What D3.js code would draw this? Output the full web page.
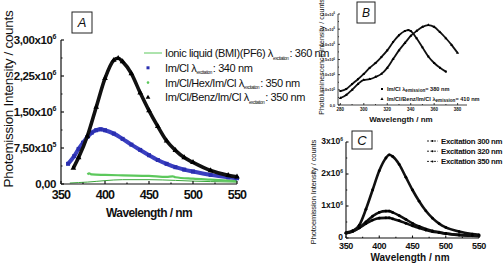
<!DOCTYPE html>
<html>
<head>
<meta charset="utf-8">
<script src="https://cdn.jsdelivr.net/npm/d3@7"></script>
<style>
  body { margin: 0; background: #fff; }
  svg { display: block; }
  text { font-family: "Liberation Sans", Arial, sans-serif; fill: #111; }
</style>
</head>
<body>
<svg id="fig" width="504" height="266"></svg>
<script>
// ---- panel A : photoemission, wavelength in nm, intensity in counts
const aIonicWl  = [360, 370, 380, 390, 400, 420, 450, 480, 500, 520, 550];
const aIonicVal = [2e4, 3e4, 4e4, 5.5e4, 7e4, 9e4, 9e4, 7.5e4, 6e4, 5e4, 4e4];
const aImClWl   = [358, 365, 370, 375, 380, 385, 390, 395, 400, 410, 420, 430, 440, 450, 460, 470, 480, 490, 500, 520, 540, 550];
const aImClVal  = [4.2e5, 5.8e5, 7.3e5, 8.6e5, 9.8e5, 1.07e6, 1.12e6, 1.14e6, 1.12e6, 1.05e6, 9.4e5, 8.2e5, 7.1e5, 6.0e5, 5.0e5, 4.2e5, 3.5e5, 3.0e5, 2.6e5, 1.9e5, 1.4e5, 1.2e5];
const aHexWl    = [380, 382, 385, 400, 420, 450, 470, 477, 480, 500, 520, 550];
const aHexVal   = [2.0e5, 2.2e5, 2.0e5, 1.9e5, 1.8e5, 1.7e5, 1.5e5, 1.6e5, 1.4e5, 1.1e5, 9e4, 6e4];
const aBenzWl   = [364, 370, 380, 390, 400, 410, 415, 420, 430, 440, 450, 460, 470, 480, 490, 500, 520, 540, 550];
const aBenzVal  = [3.3e5, 5.5e5, 1.0e6, 1.6e6, 2.2e6, 2.58e6, 2.62e6, 2.55e6, 2.3e6, 1.9e6, 1.53e6, 1.2e6, 9e5, 7e5, 5.5e5, 4.5e5, 2.8e5, 1.8e5, 1.5e5];
const aYTicks   = [0, 7.5e5, 1.5e6, 2.25e6, 3e6];
const aYLabels  = [["0,00", ""], ["7,50x10", "5"], ["1,50x10", "6"], ["2,25x10", "6"], ["3,00x10", "6"]];
const aXTicks   = [350, 400, 450, 500, 550];

// ---- panel B : excitation spectra (arbitrary units, one tick step = 1)
const bImClWl   = [280, 285, 290, 295, 300, 305, 310, 315, 320, 325, 330, 335, 338, 340, 345, 350, 355, 360, 365, 370];
const bImClVal  = [0.92, 1.05, 1.38, 1.7, 2.05, 2.45, 2.77, 3.16, 3.6, 4.15, 4.6, 4.88, 4.94, 4.88, 4.4, 3.8, 3.2, 2.77, 2.45, 2.2];
const bBenzWl   = [280, 285, 290, 295, 300, 305, 310, 315, 320, 325, 330, 335, 340, 345, 350, 355, 360, 365, 370, 375, 380];
const bBenzVal  = [0.46, 0.66, 1.0, 1.38, 1.65, 1.7, 1.85, 2.05, 2.45, 3.03, 3.6, 4.08, 4.55, 4.88, 5.15, 5.27, 5.15, 4.8, 4.4, 3.95, 3.43];
const bYTicks   = [0, 1, 2, 3, 4, 5, 6];
const bYLabels  = ["0,0", "5,0x10", "1,0x10", "1,5x10", "2,0x10", "2,5x10", "3,0x10"];
const bXTicks   = [280, 300, 320, 340, 360, 380];

// ---- panel C : photoemission for three excitation wavelengths (x10^6 counts)
const cWl       = [350, 360, 370, 380, 390, 400, 410, 415, 420, 430, 440, 450, 460, 470, 480, 490, 500, 520, 540, 550];
const c300      = [0.15, 0.22, 0.4, 0.9, 1.5, 2.1, 2.5, 2.6, 2.55, 2.3, 1.9, 1.5, 1.15, 0.85, 0.62, 0.45, 0.33, 0.2, 0.12, 0.1];
const c320      = [0.15, 0.2, 0.32, 0.5, 0.68, 0.8, 0.84, 0.84, 0.8, 0.7, 0.58, 0.46, 0.36, 0.28, 0.22, 0.18, 0.14, 0.09, 0.07, 0.06];
const c350      = [0.17, 0.22, 0.32, 0.45, 0.56, 0.62, 0.63, 0.63, 0.6, 0.54, 0.46, 0.38, 0.31, 0.25, 0.2, 0.17, 0.14, 0.1, 0.08, 0.07];
const cYTicks   = [0, 1, 2, 3];
const cYLabels  = [["0", ""], ["1x10", "6"], ["2x10", "6"], ["3x10", "6"]];
const cXTicks   = [350, 400, 450, 500, 550];
const cLegend   = ["Excitation 300 nm", "Excitation 320 nm", "Excitation 350 nm"];

const svg = d3.select("#fig");

function zip(xs, ys) { return xs.map((x, i) => [x, ys[i]]); }

// draws a bare axis line with inward major + minor ticks
function drawAxes(g, x, y, opt) {
    const [x0, x1] = x.range(), [y0, y1] = y.range();
    g.append("line").attr("x1", x0).attr("x2", x0).attr("y1", y0).attr("y2", y1)
        .attr("stroke", "#111").attr("stroke-width", opt.sw);
    g.append("line").attr("x1", x0).attr("x2", x1).attr("y1", y0).attr("y2", y0)
        .attr("stroke", "#111").attr("stroke-width", opt.sw);
    const xt = opt.xTicks, yt = opt.yTicks;
    const xMinor = xt.slice(0, -1).map((t, i) => (t + xt[i + 1]) / 2);
    const yMinor = yt.slice(0, -1).map((t, i) => (t + yt[i + 1]) / 2);
    xt.forEach(t => g.append("line").attr("x1", x(t)).attr("x2", x(t))
        .attr("y1", y0).attr("y2", y0 - opt.tl).attr("stroke", "#111").attr("stroke-width", opt.sw));
    xMinor.forEach(t => g.append("line").attr("x1", x(t)).attr("x2", x(t))
        .attr("y1", y0).attr("y2", y0 - opt.tl / 2).attr("stroke", "#111").attr("stroke-width", opt.sw));
    yt.forEach(t => g.append("line").attr("x1", x0).attr("x2", x0 + opt.tl)
        .attr("y1", y(t)).attr("y2", y(t)).attr("stroke", "#111").attr("stroke-width", opt.sw));
    yMinor.forEach(t => g.append("line").attr("x1", x0).attr("x2", x0 + opt.tl / 2)
        .attr("y1", y(t)).attr("y2", y(t)).attr("stroke", "#111").attr("stroke-width", opt.sw));
    g.selectAll(null).data(xt).join("text")
        .attr("x", d => x(d)).attr("y", y0 + opt.xlOff)
        .attr("text-anchor", "middle").attr("font-size", opt.fs).attr("font-weight", "bold")
        .attr("letter-spacing", opt.ls)
        .text(d => d);
}

function yLabels(g, x, y, ticks, labels, fs, off, supFs) {
    const x0 = x.range()[0];
    ticks.forEach((t, i) => {
        const lab = labels[i];
        const txt = g.append("text").attr("x", x0 - off).attr("y", y(t) + fs * 0.35)
            .attr("text-anchor", "end").attr("font-size", fs).attr("font-weight", "bold")
            .attr("letter-spacing", -0.4);
        txt.append("tspan").text(lab[0]);
        if (lab[1]) txt.append("tspan").attr("dy", -fs * 0.45).attr("font-size", supFs).text(lab[1]);
    });
}

function panelBox(letter, bx, by, bw, bh, fs) {
    svg.append("rect").attr("x", bx).attr("y", by).attr("width", bw).attr("height", bh)
        .attr("fill", "#fff").attr("stroke", "#222").attr("stroke-width", 1);
    svg.append("text").attr("x", bx + bw / 2).attr("y", by + bh / 2 + fs * 0.36)
        .attr("text-anchor", "middle").attr("font-size", fs).attr("font-style", "italic")
        .text(letter);
}

// ======================= panel A
{
    const x = d3.scaleLinear().domain([350, 550]).range([61, 237]);
    const y = d3.scaleLinear().domain([0, 3e6]).range([184, 40]);
    const g = svg.append("g");
    const line = d3.line().x(d => x(d[0])).y(d => y(d[1])).curve(d3.curveMonotoneX);

    g.append("path").datum(zip(aIonicWl, aIonicVal)).attr("d", line)
        .attr("fill", "none").attr("stroke", "#3aa63a").attr("stroke-width", 1);
    g.append("path").datum(zip(aHexWl, aHexVal)).attr("d", line)
        .attr("fill", "none").attr("stroke", "#5cc85c").attr("stroke-width", 2.2);
    g.append("path").datum(zip(aImClWl, aImClVal)).attr("d", line)
        .attr("fill", "none").attr("stroke", "#3a3fc0").attr("stroke-width", 4);
    g.selectAll(null).data(zip(aImClWl, aImClVal)).join("rect")
        .attr("x", d => x(d[0]) - 2).attr("y", d => y(d[1]) - 2)
        .attr("width", 4).attr("height", 4).attr("fill", "#2a2fb0");
    g.append("path").datum(zip(aBenzWl, aBenzVal)).attr("d", line)
        .attr("fill", "none").attr("stroke", "#111").attr("stroke-width", 3.6);
    g.selectAll(null).data(zip(aBenzWl, aBenzVal)).join("path")
        .attr("transform", d => `translate(${x(d[0])},${y(d[1])})`)
        .attr("d", d3.symbol(d3.symbolTriangle, 14)).attr("fill", "#000");

    drawAxes(g, x, y, { xTicks: aXTicks, yTicks: aYTicks, tl: 3, sw: 1.2, fs: 12.5, xlOff: 15, ls: -0.8 });
    yLabels(g, x, y, aYTicks, aYLabels, 11.5, 5, 7);

    g.append("text").attr("x", 149).attr("y", 217).attr("text-anchor", "middle")
        .attr("font-size", 12).attr("font-weight", "bold").attr("letter-spacing", -0.6)
        .text("Wavelength / nm");
    g.append("text").attr("transform", "translate(13,99) rotate(-90)").attr("text-anchor", "middle")
        .attr("font-size", 13.5).attr("letter-spacing", -0.3)
        .text("Photemission Intensity / counts");

    // legend
    const leg = [
        { name: "Ionic liquid (BMI)(PF6) \u03bb", nm: ": 360 nm", mark: "line" },
        { name: "Im/Cl \u03bb", nm: ": 340 nm", mark: "square" },
        { name: "Im/Cl/Hex/Im/Cl \u03bb", nm: ": 350 nm", mark: "dot" },
        { name: "Im/Cl/Benz/Im/Cl \u03bb", nm: ": 350 nm", mark: "tri" }
    ];
    leg.forEach((d, i) => {
        const ly = 53 + i * 14.8;
        if (d.mark === "line") g.append("line").attr("x1", 144).attr("x2", 162).attr("y1", ly).attr("y2", ly)
            .attr("stroke", "#5cc85c").attr("stroke-width", 1);
        if (d.mark === "square") g.append("rect").attr("x", 146.5).attr("y", ly - 1.5).attr("width", 3).attr("height", 3).attr("fill", "#2a2fb0");
        if (d.mark === "dot") g.append("circle").attr("cx", 148).attr("cy", ly).attr("r", 1.3).attr("fill", "#5cc85c");
        if (d.mark === "tri") g.append("path").attr("transform", `translate(148,${ly})`)
            .attr("d", d3.symbol(d3.symbolTriangle, 10)).attr("fill", "#000");
        const t = g.append("text").attr("x", 165).attr("y", ly + 4)
            .attr("font-size", 11).attr("letter-spacing", -0.4);
        t.append("tspan").text(d.name);
        t.append("tspan").attr("dy", 2.5).attr("font-size", 4.6).text("excitation");
        t.append("tspan").attr("dy", -2.5).attr("dx", 1).text(d.nm);
    });

    panelBox("A", 72, 12, 20, 21, 13);
}

// ======================= panel B
{
    const x = d3.scaleLinear().domain([278, 388]).range([338, 467]);
    const y = d3.scaleLinear().domain([0, 6]).range([105, 14]);
    const g = svg.append("g");
    const line = d3.line().x(d => x(d[0])).y(d => y(d[1])).curve(d3.curveMonotoneX);

    [[bImClWl, bImClVal, "square"], [bBenzWl, bBenzVal, "tri"]].forEach(([wl, v, m]) => {
        g.append("path").datum(zip(wl, v)).attr("d", line)
            .attr("fill", "none").attr("stroke", "#111").attr("stroke-width", 1.8);
        g.selectAll(null).data(zip(wl, v)).join("path")
            .attr("transform", d => `translate(${x(d[0])},${y(d[1])})`)
            .attr("d", d3.symbol(m === "tri" ? d3.symbolTriangle : d3.symbolSquare, 4)).attr("fill", "#000");
    });

    drawAxes(g, x, y, { xTicks: bXTicks, yTicks: bYTicks, tl: 2, sw: 0.8, fs: 4.5, xlOff: 6, ls: 0 });
    bYTicks.forEach((t, i) => {
        const txt = g.append("text").attr("x", 335).attr("y", y(t) + 1.5)
            .attr("text-anchor", "end").attr("font-size", 3.8).attr("font-weight", "bold");
        txt.append("tspan").text(bYLabels[i]);
        if (i) txt.append("tspan").attr("dy", -1.5).attr("font-size", 2.6).text(i < 2 ? "5" : "6");
    });

    g.append("text").attr("x", 401).attr("y", 122).attr("text-anchor", "middle")
        .attr("font-size", 8).attr("font-weight", "bold").text("Wavelength / nm");
    g.append("text").attr("transform", "translate(324,57) rotate(-90)").attr("text-anchor", "middle")
        .attr("font-size", 7).text("Photoluminescence Intensity / counts");

    [["Im/Cl \u03bb", "= 380 nm", "square"], ["Im/Cl/Benz/Im/Cl \u03bb", "= 410 nm", "tri"]].forEach((d, i) => {
        const ly = 89 + i * 10;
        g.append("path").attr("transform", `translate(382,${ly})`)
            .attr("d", d3.symbol(d[2] === "tri" ? d3.symbolTriangle : d3.symbolSquare, 4)).attr("fill", "#000");
        const t = g.append("text").attr("x", 387).attr("y", ly + 2)
            .attr("font-size", 5.6).attr("font-weight", "bold");
        t.append("tspan").text(d[0]);
        t.append("tspan").attr("dy", 1.4).attr("font-size", 4.6).text("emission");
        t.append("tspan").attr("dy", -1.4).text(d[1]);
    });

    panelBox("B", 357, 2, 18, 21, 12);
}

// ======================= panel C
{
    const x = d3.scaleLinear().domain([350, 550]).range([346, 479]);
    const y = d3.scaleLinear().domain([0, 3]).range([238, 142]);
    const g = svg.append("g");
    const line = d3.line().x(d => x(d[0])).y(d => y(d[1])).curve(d3.curveMonotoneX);

    [c300, c320, c350].forEach(v => {
        g.append("path").datum(zip(cWl, v)).attr("d", line)
            .attr("fill", "none").attr("stroke", "#111").attr("stroke-width", 2.6);
        g.selectAll(null).data(zip(cWl, v)).join("circle")
            .attr("cx", d => x(d[0])).attr("cy", d => y(d[1])).attr("r", 1.4).attr("fill", "#000");
    });

    drawAxes(g, x, y, { xTicks: cXTicks, yTicks: cYTicks, tl: 2.5, sw: 1.1, fs: 9, xlOff: 11, ls: -0.3 });
    cYTicks.forEach((t, i) => {
        const txt = g.append("text").attr("x", 343).attr("y", y(t) + 2)
            .attr("text-anchor", "end").attr("font-size", 8.5).attr("font-weight", "bold");
        txt.append("tspan").text(cYLabels[i][0]);
        if (cYLabels[i][1]) txt.append("tspan").attr("dy", -3.5).attr("font-size", 5).text(cYLabels[i][1]);
    });

    g.append("text").attr("x", 410).attr("y", 261).attr("text-anchor", "middle")
        .attr("font-size", 10).attr("font-weight", "bold").text("Wavelength / nm");
    g.append("text").attr("transform", "translate(316,192) rotate(-90)").attr("text-anchor", "middle")
        .attr("font-size", 7.5).attr("letter-spacing", -0.1).text("Photoemission Intensity / counts");

    cLegend.forEach((d, i) => {
        const ly = 141 + i * 10.2;
        g.append("line").attr("x1", 427).attr("x2", 438).attr("y1", ly).attr("y2", ly)
            .attr("stroke", "#111").attr("stroke-width", 0.9).attr("stroke-dasharray", "2,1.5");
        g.append("circle").attr("cx", 432.5).attr("cy", ly).attr("r", 1).attr("fill", "#000");
        g.append("text").attr("x", 441).attr("y", ly + 2.8)
            .attr("font-size", 7.8).attr("font-weight", "bold").attr("letter-spacing", -0.3).text(d);
    });

    panelBox("C", 352, 131, 20, 18, 13);
}
</script>
</body>
</html>
